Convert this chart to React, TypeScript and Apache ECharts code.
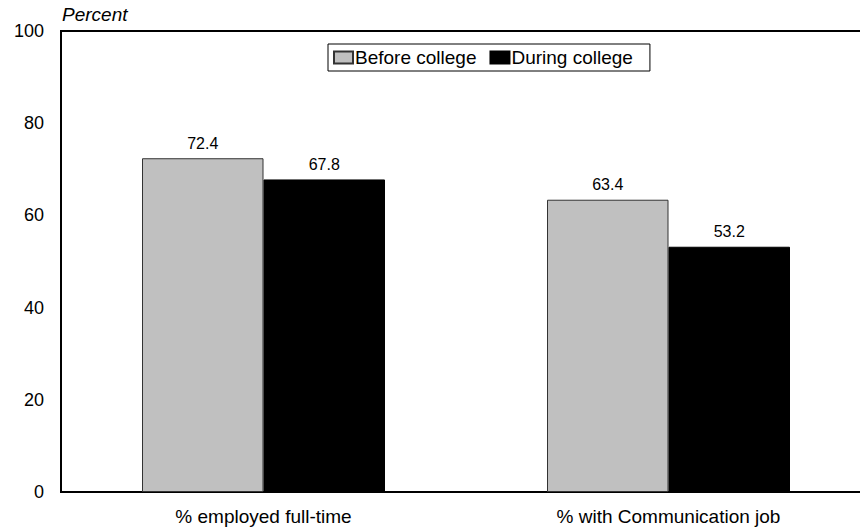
import React, { useEffect, useRef } from "react";
import * as echarts from "echarts";

const categories = ["% employed full-time", "% with Communication job"];
const beforeCollege = [72.4, 63.4];
const duringCollege = [67.8, 53.2];
const seriesNames = ["Before college", "During college"];

export default function App() {
  const ref = useRef<HTMLDivElement>(null);
  useEffect(() => {
    if (!ref.current) return;
    const chart = echarts.init(ref.current, null, { renderer: "svg" });
    const font = "Liberation Sans, Arial, sans-serif";
    chart.setOption({
      animation: false,
      backgroundColor: "#ffffff",
      textStyle: { fontFamily: font },
      grid: {
        left: 61,
        right: 0,
        top: 31,
        bottom: 37,
        show: true,
        borderColor: "#000",
        borderWidth: 2,
        containLabel: false,
      },
      legend: {
        data: seriesNames,
        left: 328,
        top: 44,
        orient: "horizontal",
        itemWidth: 19,
        itemHeight: 12,
        itemGap: 13,
        padding: [4, 17, 4, 5],
        borderColor: "#000",
        borderWidth: 1,
        textStyle: { fontSize: 19, color: "#000", fontFamily: font, padding: [0, 0, 0, -3] },
        icon: "rect",
      },
      graphic: [
        {
          type: "text",
          left: 62,
          top: 5,
          style: {
            text: "Percent",
            font: "italic 19px " + font,
            fill: "#000",
          },
        },
      ],
      xAxis: {
        type: "category",
        data: categories,
        axisLine: { show: true, lineStyle: { color: "#000", width: 2 } },
        axisTick: { show: false },
        axisLabel: { fontSize: 19, color: "#000", margin: 15, fontFamily: font },
      },
      yAxis: {
        type: "value",
        min: 0,
        max: 100,
        interval: 20,
        axisLine: { show: true, lineStyle: { color: "#000", width: 2 } },
        axisTick: { show: false },
        splitLine: { show: false },
        axisLabel: { fontSize: 18, color: "#000", margin: 17, fontFamily: font },
      },
      series: [
        {
          name: seriesNames[0],
          type: "bar",
          data: beforeCollege,
          barGap: "0%",
          barCategoryGap: "40%",
          itemStyle: { color: "#c0c0c0", borderColor: "#333", borderWidth: 1 },
          label: { show: true, position: "top", fontSize: 16, color: "#000", distance: 7, fontFamily: font },
        },
        {
          name: seriesNames[1],
          type: "bar",
          data: duringCollege,
          barGap: "0%",
          barCategoryGap: "40%",
          itemStyle: { color: "#000000", borderColor: "#000", borderWidth: 1 },
          label: { show: true, position: "top", fontSize: 16, color: "#000", distance: 7, fontFamily: font },
        },
      ],
    });
    return () => chart.dispose();
  }, []);
  return (
    <div style={{ position: "absolute", left: 0, top: 0, width: 860, height: 529, overflow: "hidden" }}>
      <div ref={ref} style={{ width: 871, height: 529 }} />
    </div>
  );
}
